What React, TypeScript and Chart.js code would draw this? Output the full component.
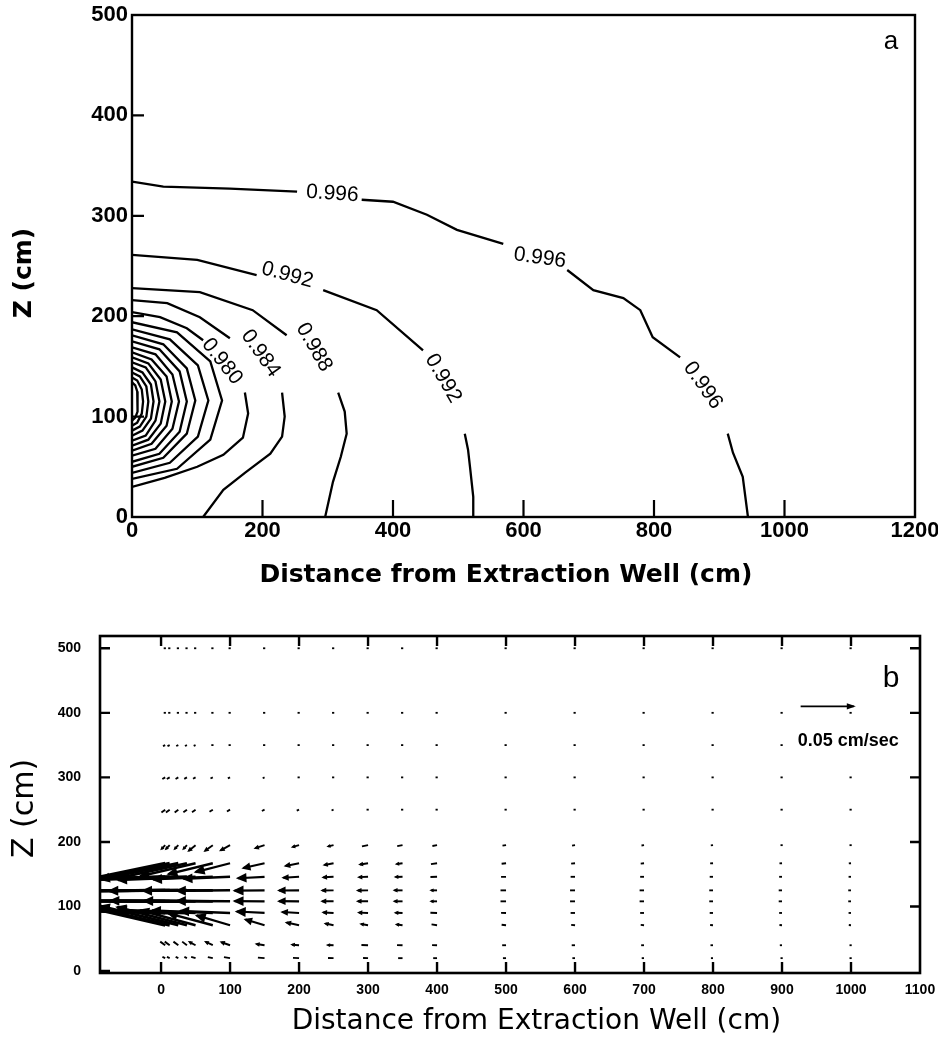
import React, { useEffect, useRef } from 'react';
import { Chart, registerables } from 'chart.js';

Chart.register(...registerables);

/* ================= Panel a : concentration contours ================= */
const xTicksA = [0, 200, 400, 600, 800, 1000, 1200];
const zTicksA = [0, 100, 200, 300, 400, 500];
const xInnerTicksA = [200, 400, 600, 800, 1000];
const zInnerTicksA = [100, 200, 300, 400];

// vertices [distance cm, z cm]; null marks the gap left for a label
const contour0996 = [[0, 334], [48, 329], [150, 327], [253, 324], null, [352, 316], [400, 314], [452, 301], [498, 286], [569, 272], null, [667, 246], [707, 226], [753, 218], [779, 206], [798, 179], [840, 159], null, [913, 83], [921, 64], [936, 40], [944, 0]];
const contour0992 = [[0, 261], [100, 256], [191, 241], null, [293, 226], [375, 206], [446, 166], null, [510, 83], [515, 67], [518, 50], [523, 20], [523, 0]];
const contour0988 = [[0, 228], [104, 224], [185, 206], [237, 181], null, [316, 124], [326, 105], [329, 83], [320, 60], [308, 35], [296, 0]];
const contour0984 = [[0, 216], [54, 213], [104, 199], [150, 178], null, [230, 124], [234, 100], [230, 80], [212, 63], [173, 44], [140, 27], [109, 0]];
const contour0980 = [[0, 204], [43, 199], [84, 188], [109, 176], null, [173, 124], [178, 103], [170, 79], [140, 62], [100, 50], [50, 39], [0, 30]];
const contour0976 = [[0, 194], [69, 184], [120, 155], [138, 116], [120, 77], [69, 48], [0, 38]];
const contour0972 = [[0, 187], [58, 177], [101, 151], [117, 116], [101, 80], [58, 54], [0, 44]];
const contour0968 = [[0, 181], [48, 172], [84, 148], [97, 116], [84, 83], [48, 59], [0, 50]];
const contour0964 = [[0, 175], [42, 167], [73, 145], [84, 115], [73, 85], [42, 63], [0, 55]];
const contour0960 = [[0, 169], [36, 162], [62, 142], [72, 115], [62, 88], [36, 68], [0, 61]];
const contour0956 = [[0, 164], [30, 157], [53, 140], [61, 115], [53, 91], [30, 73], [0, 66]];
const contour0952 = [[0, 159], [25, 153], [44, 137], [51, 115], [44, 93], [25, 77], [0, 71]];
const contour0948 = [[0, 154], [21, 149], [36, 135], [42, 115], [36, 96], [21, 81], [0, 76]];
const contour0944 = [[0, 149], [16, 144], [29, 132], [33, 115], [29, 98], [16, 86], [0, 81]];
const contour0940 = [[0, 144], [12, 140], [22, 130], [25, 115], [22, 100], [12, 90], [0, 86]];
const contour0936 = [[0, 139], [8, 136], [15, 127], [17, 115], [15, 103], [8, 94], [0, 91]];
const contour0932 = [[0, 134], [5, 131], [8, 125], [9, 115], [8, 105], [5, 99], [0, 96]];

const contourLabels = [
  { text: '0.996', x: 307, z: 322, angle: 4 },
  { text: '0.996', x: 625, z: 258, angle: 8 },
  { text: '0.996', x: 875, z: 131, angle: 55 },
  { text: '0.992', x: 238, z: 241, angle: 15 },
  { text: '0.992', x: 477, z: 138, angle: 60 },
  { text: '0.988', x: 279, z: 169, angle: 60 },
  { text: '0.984', x: 197, z: 163, angle: 55 },
  { text: '0.980', x: 138, z: 155, angle: 52 },
];

/* ================= Panel b : velocity vectors ================= */
const xTicksB = [0, 100, 200, 300, 400, 500, 600, 700, 800, 900, 1000, 1100];
const zTicksB = [0, 100, 200, 300, 400, 500];
const xInnerTicksB = [0, 100, 200, 300, 400, 500, 600, 700, 800, 900, 1000];
const zInnerTicksBLeft = [0, 100, 200, 300, 400, 500];
const zInnerTicksBRight = [100, 200, 300, 400, 500];

const vecColumns = [6, 12.5, 25, 37.5, 50, 75, 100, 150, 200, 250, 300, 350, 400, 500, 600, 700, 800, 900, 1000];
const vecRows = [500, 400, 350, 300, 250, 195, 167, 146, 125, 108, 90, 71, 40, 20];
// horizontal (u) and vertical (w) velocity, 1e-3 cm/s
const u500 = [-1.2, -1.2, -1.1, -1.1, -1, -1, -0.9, -0.9, -0.8, -0.8, -0.7, -0.7, -0.7, -0.6, -0.6, -0.6, -0.5, -0.5, -0.5];
const w500 = [-0.3, -0.3, -0.3, -0.3, -0.2, -0.2, -0.2, -0.2, -0.1, -0.1, -0.1, -0.1, 0, 0, 0, 0, 0, 0, 0];
const u400 = [-1.6, -1.6, -1.5, -1.5, -1.4, -1.3, -1.2, -1.1, -1, -1, -0.9, -0.9, -0.8, -0.8, -0.7, -0.7, -0.7, -0.6, -0.6];
const w400 = [-0.6, -0.6, -0.6, -0.5, -0.5, -0.5, -0.4, -0.3, -0.3, -0.2, -0.2, -0.2, -0.1, -0.1, -0.1, 0, 0, 0, 0];
const u350 = [-2, -2, -1.9, -1.8, -1.7, -1.6, -1.5, -1.3, -1.2, -1.1, -1, -1, -0.9, -0.9, -0.8, -0.8, -0.7, -0.7, -0.7];
const w350 = [-1, -1, -0.9, -0.9, -0.8, -0.7, -0.6, -0.5, -0.4, -0.3, -0.3, -0.2, -0.2, -0.1, -0.1, -0.1, 0, 0, 0];
const u300 = [-2.6, -2.6, -2.5, -2.4, -2.3, -2.1, -2, -1.7, -1.5, -1.4, -1.2, -1.1, -1.1, -1, -0.9, -0.9, -0.8, -0.8, -0.7];
const w300 = [-1.6, -1.6, -1.5, -1.4, -1.3, -1.1, -1, -0.8, -0.6, -0.5, -0.4, -0.3, -0.3, -0.2, -0.1, -0.1, -0.1, 0, 0];
const u250 = [-3.4, -3.4, -3.3, -3.2, -3.2, -3, -2.8, -2.4, -2.1, -1.8, -1.6, -1.4, -1.3, -1.2, -1.1, -1, -0.9, -0.9, -0.8];
const w250 = [-2.8, -2.8, -2.7, -2.6, -2.4, -2.1, -1.8, -1.3, -1, -0.8, -0.6, -0.5, -0.4, -0.3, -0.2, -0.2, -0.1, -0.1, -0.1];
const u195 = [-4.5, -4.5, -4.4, -4.3, -7.5, -8.5, -10, -10, -7.5, -6.5, -5.5, -4.8, -4.2, -3.2, -2.7, -2.3, -2, -1.8, -1.6];
const w195 = [-5, -5, -5, -5, -6.5, -6.5, -6, -3.5, -2.2, -1.6, -1.2, -1, -0.8, -0.5, -0.4, -0.3, -0.2, -0.2, -0.2];
const u167 = [-86, -80, -72, -65, -52, -42, -33, -21, -14, -10, -9, -7, -5.5, -4, -3.5, -3, -2.6, -2.3, -2];
const w167 = [-19, -18, -16, -15, -13, -11, -9, -5, -3, -2, -1.5, -1, -0.8, -0.5, -0.4, -0.3, -0.2, -0.2, -0.2];
const u146 = [-112, -106, -98, -90, -72, -56, -44, -26, -16, -11, -10, -8, -6, -4.5, -4, -3.5, -3, -2.6, -2.2];
const w146 = [-3, -3, -3, -3, -3, -2.5, -2, -1.5, -1, -0.6, -0.4, -0.3, -0.2, -0.1, 0, 0, 0, 0, 0];
const u125 = [-120, -115, -108, -100, -80, -65, -50, -29, -20, -12, -11, -9, -7, -5, -4.5, -4, -3.4, -3, -2.5];
const w125 = [-0.6, -0.6, -0.5, -0.5, -0.5, -0.4, -0.4, -0.3, -0.2, -0.1, -0.1, 0, 0, 0, 0, 0, 0, 0, 0];
const u108 = [-119, -114, -106, -99, -79, -64, -50, -29, -20, -12, -11, -9, -7, -5, -4.5, -4, -3.4, -3, -2.5];
const w108 = [0.6, 0.6, 0.5, 0.5, 0.5, 0.4, 0.4, 0.3, 0.2, 0.1, 0.1, 0, 0, 0, 0, 0, 0, 0, 0];
const u90 = [-110, -104, -96, -88, -72, -57, -47, -27, -17, -11, -10, -8, -6, -4.5, -4, -3.5, -3, -2.6, -2.2];
const w90 = [3, 3, 3, 3, 3, 2.5, 2, 1.5, 1, 0.6, 0.4, 0.3, 0.2, 0.1, 0, 0, 0, 0, 0];
const u71 = [-85, -79, -72, -65, -52, -42, -32, -19, -13, -9, -8, -7, -5, -4, -3.5, -3, -2.6, -2.3, -2];
const w71 = [21, 20, 19, 18, 15, 12, 10, 6, 3, 2, 1.5, 1, 0.8, 0.5, 0.4, 0.3, 0.2, 0.2, 0.2];
const u40 = [-4.5, -4.5, -4.4, -4.3, -7, -8, -9.5, -9, -8, -7, -6, -5, -4.5, -3.5, -3, -2.6, -2.3, -2, -1.8];
const w40 = [3.5, 3.5, 3.5, 3.5, 4, 4, 3.5, 1.5, 0.6, 0.3, 0.2, 0.1, 0.1, 0, 0, 0, 0, 0, 0];
const u20 = [-2.5, -2.5, -2.4, -2.3, -4, -4.5, -5.5, -6, -5.5, -5, -4.5, -4, -3.5, -2.8, -2.4, -2.1, -1.9, -1.7, -1.5];
const w20 = [1.2, 1.2, 1.2, 1.2, 1.2, 1, 1, 0.5, 0.3, 0.2, 0.1, 0, 0, 0, 0, 0, 0, 0, 0];

const refVector = { x: 927, z: 410, u: 50, w: 0, key: true }; // 0.05 cm/sec key
const VEL_TO_CM = 1.6; // plotted length (cm of axis) per 1e-3 cm/s

/* ================= helpers ================= */
const toPoints = (arr) => {
  const out = [];
  let lastX = 0;
  for (const p of arr) {
    if (p === null) out.push({ x: lastX, y: null });
    else { out.push({ x: p[0], y: p[1] }); lastX = p[0]; }
  }
  return out;
};

const decorPlugin = {
  id: 'decor',
  afterDatasetsDraw(chart) {
    const cfg = chart.options.plugins.decor;
    if (!cfg) return;
    const { ctx, chartArea: ca } = chart;
    const xs = chart.scales.x;
    const ys = chart.scales.y;
    ctx.save();
    ctx.strokeStyle = '#000';
    ctx.fillStyle = '#000';

    // vectors
    if (cfg.vectors) {
      ctx.save();
      ctx.beginPath();
      ctx.rect(ca.left, ca.top, ca.right - ca.left, ca.bottom - ca.top);
      ctx.clip();
      ctx.lineCap = 'butt';
      for (const v of cfg.vectors) {
        const x0 = xs.getPixelForValue(v.x);
        const y0 = ys.getPixelForValue(v.z);
        const x1 = xs.getPixelForValue(v.x + v.u * VEL_TO_CM);
        const y1 = ys.getPixelForValue(v.z + v.w * VEL_TO_CM);
        const dx = x1 - x0, dy = y1 - y0;
        const len = Math.hypot(dx, dy);
        if (len < 2) { ctx.fillRect(x0 - 1.5, y0 - 0.9, 2.2, 1.8); continue; }
        const ux = dx / len, uy = dy / len;
        const withHead = len >= 7;
        ctx.lineWidth = v.key ? 1.6 : 1.8 + Math.min(1.2, len / 80);
        ctx.beginPath();
        ctx.moveTo(x0, y0);
        if (withHead) ctx.lineTo(x1 - ux * 2, y1 - uy * 2);
        else ctx.lineTo(x1, y1);
        ctx.stroke();
        if (withHead) {
          const h = v.key ? 9 : Math.min(11, 2 + len * 0.3);
          const hw = h * (v.key ? 0.35 : 0.45);
          ctx.beginPath();
          ctx.moveTo(x1, y1);
          ctx.lineTo(x1 - ux * h - uy * hw, y1 - uy * h + ux * hw);
          ctx.lineTo(x1 - ux * h + uy * hw, y1 - uy * h - ux * hw);
          ctx.closePath();
          ctx.fill();
        }
      }
      ctx.restore();
    }

    // frame
    ctx.lineWidth = cfg.frameWidth;
    ctx.strokeRect(ca.left, ca.top, ca.right - ca.left, ca.bottom - ca.top);

    // inward tick marks
    ctx.lineWidth = cfg.tickWidth;
    ctx.beginPath();
    const t = cfg.ticks;
    (t.bottom || []).forEach((v) => { const p = xs.getPixelForValue(v); ctx.moveTo(p, ca.bottom); ctx.lineTo(p, ca.bottom - t.bottomLen); });
    (t.top || []).forEach((v) => { const p = xs.getPixelForValue(v); ctx.moveTo(p, ca.top); ctx.lineTo(p, ca.top + t.topLen); });
    (t.left || []).forEach((v) => { const p = ys.getPixelForValue(v); ctx.moveTo(ca.left, p); ctx.lineTo(ca.left + t.leftLen, p); });
    (t.right || []).forEach((v) => { const p = ys.getPixelForValue(v); ctx.moveTo(ca.right, p); ctx.lineTo(ca.right - t.rightLen, p); });
    ctx.stroke();

    // texts
    for (const tx of cfg.texts) {
      ctx.save();
      ctx.font = tx.font;
      ctx.translate(xs.getPixelForValue(tx.x), ys.getPixelForValue(tx.z));
      ctx.rotate(((tx.angle || 0) * Math.PI) / 180);
      ctx.textAlign = 'center';
      ctx.textBaseline = 'middle';
      ctx.fillText(tx.text, 0, 0);
      ctx.restore();
    }
    ctx.restore();
  },
};

const fixedTicks = (vals) => (scale) => { scale.ticks = vals.map((v) => ({ value: v })); };
const plainLabel = (v) => String(v);
const fitX = (h) => (s) => { s.height = h; s.paddingLeft = 0; s.paddingRight = 0; };
const fitY = (w) => (s) => { s.width = w; s.paddingTop = 0; s.paddingBottom = 0; };

/* ================= charts ================= */
function PanelA() {
  const ref = useRef(null);
  useEffect(() => {
    const contours = [contour0996, contour0992, contour0988, contour0984, contour0980, contour0976, contour0972, contour0968, contour0964, contour0960, contour0956, contour0952, contour0948, contour0944, contour0940, contour0936, contour0932];
    const labelFont = '21px "Liberation Sans", Arial, sans-serif';
    const tickFont = { family: '"Liberation Sans", Arial, sans-serif', size: 22, weight: 'bold' };
    const chart = new Chart(ref.current, {
      type: 'scatter',
      data: {
        datasets: contours.map((c) => ({
          data: toPoints(c),
          showLine: true,
          spanGaps: false,
          borderColor: '#000',
          borderWidth: 2.3,
          pointRadius: 0,
          tension: 0,
        })),
      },
      options: {
        responsive: false,
        animation: false,
        events: [],
        layout: { padding: { left: 8, top: 15, right: 23, bottom: 0 } },
        plugins: {
          legend: { display: false },
          tooltip: { enabled: false },
          decor: {
            frameWidth: 2.4,
            tickWidth: 2.2,
            ticks: { bottom: xInnerTicksA, bottomLen: 17, left: zInnerTicksA, leftLen: 12 },
            texts: [
              ...contourLabels.map((l) => ({ ...l, font: labelFont })),
              { text: 'a', x: 1163, z: 473, font: '26px "Liberation Sans", Arial, sans-serif' },
              { text: 'Distance from Extraction Well (cm)', x: 573, z: -58, font: 'bold 25px "DejaVu Sans", sans-serif' },
              { text: 'Z (cm)', x: -164, z: 243, angle: -90, font: 'bold 25px "DejaVu Sans", sans-serif' },
            ],
          },
        },
        scales: {
          x: {
            type: 'linear', min: 0, max: 1200,
            afterBuildTicks: fixedTicks(xTicksA),
            afterFit: fitX(83),
            grid: { display: false, drawTicks: false },
            border: { display: false },
            ticks: { padding: 1, color: '#000', autoSkip: false, maxRotation: 0, callback: plainLabel, font: tickFont },
          },
          y: {
            type: 'linear', min: 0, max: 500,
            afterBuildTicks: fixedTicks(zTicksA),
            afterFit: fitY(124),
            grid: { display: false, drawTicks: false },
            border: { display: false },
            ticks: { padding: 4, color: '#000', autoSkip: false, callback: plainLabel, font: tickFont },
          },
        },
      },
      plugins: [decorPlugin],
    });
    return () => chart.destroy();
  }, []);
  return <canvas ref={ref} width={938} height={600} style={{ position: 'absolute', left: 0, top: 0 }} />;
}

function PanelB() {
  const ref = useRef(null);
  useEffect(() => {
    const uRows = [u500, u400, u350, u300, u250, u195, u167, u146, u125, u108, u90, u71, u40, u20];
    const wRows = [w500, w400, w350, w300, w250, w195, w167, w146, w125, w108, w90, w71, w40, w20];
    const vectors = [];
    vecRows.forEach((z, r) => {
      vecColumns.forEach((x, c) => {
        vectors.push({ x, z, u: uRows[r][c], w: wRows[r][c] });
      });
    });
    vectors.push(refVector);
    const tickFont = { family: '"Liberation Sans", Arial, sans-serif', size: 14, weight: 'bold' };
    const chart = new Chart(ref.current, {
      type: 'scatter',
      data: {
        datasets: [{ data: vectors.map((v) => ({ x: v.x, y: v.z })), pointRadius: 0, showLine: false }],
      },
      options: {
        responsive: false,
        animation: false,
        events: [],
        layout: { padding: { left: 8, top: 76, right: 18, bottom: 0 } },
        plugins: {
          legend: { display: false },
          tooltip: { enabled: false },
          decor: {
            vectors,
            frameWidth: 2.6,
            tickWidth: 2.4,
            ticks: {
              bottom: xInnerTicksB, bottomLen: 11,
              top: xInnerTicksB, topLen: 10,
              left: zInnerTicksBLeft, leftLen: 10,
              right: zInnerTicksBRight, rightLen: 10,
            },
            texts: [
              { text: 'b', x: 1058, z: 453, font: '30px "Liberation Sans", Arial, sans-serif' },
              { text: '0.05 cm/sec', x: 996, z: 356, font: 'bold 18px "Liberation Sans", Arial, sans-serif' },
              { text: 'Distance from Extraction Well (cm)', x: 544, z: -79, font: '28px "DejaVu Sans", sans-serif' },
              { text: 'Z (cm)', x: -197, z: 252, angle: -90, font: '30px "DejaVu Sans", sans-serif' },
            ],
          },
        },
        scales: {
          x: {
            type: 'linear', min: -88.5, max: 1100,
            afterBuildTicks: fixedTicks(xTicksB),
            afterFit: fitX(77),
            grid: { display: false, drawTicks: false },
            border: { display: false },
            ticks: { padding: 9, color: '#000', autoSkip: false, maxRotation: 0, callback: plainLabel, font: tickFont },
          },
          y: {
            type: 'linear', min: -3, max: 519,
            afterBuildTicks: fixedTicks(zTicksB),
            afterFit: fitY(92),
            grid: { display: false, drawTicks: false },
            border: { display: false },
            ticks: { padding: 19, color: '#000', autoSkip: false, callback: plainLabel, font: tickFont },
          },
        },
      },
      plugins: [decorPlugin],
    });
    return () => chart.destroy();
  }, []);
  return <canvas ref={ref} width={938} height={490} style={{ position: 'absolute', left: 0, top: 560 }} />;
}

export default function App() {
  return (
    <div style={{ position: 'absolute', left: 0, top: 0, width: 938, height: 1050, background: '#fff' }}>
      <PanelA />
      <PanelB />
    </div>
  );
}
